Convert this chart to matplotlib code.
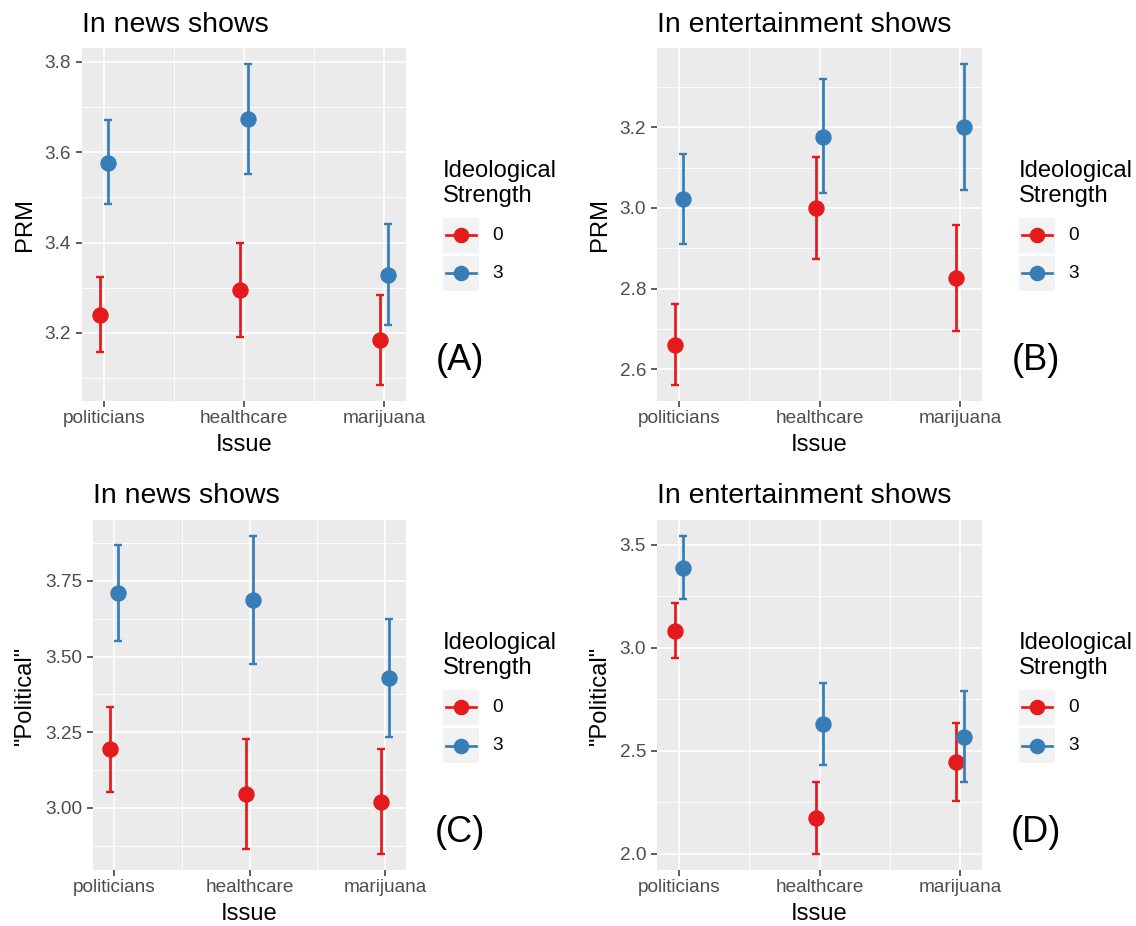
import matplotlib.pyplot as plt
from matplotlib.patches import Rectangle
from matplotlib.lines import Line2D
import numpy as np

plt.rcParams['font.family'] = ['Liberation Sans', 'DejaVu Sans']

W, H = 1136, 926

issues = ['politicians', 'healthcare', 'marijuana']
groups = ['0', '3']
group_colors = ['#E41A1C', '#377EB8']
legend_title = ['Ideological', 'Strength']

# (A) PRM in news shows
news_prm_mean_0 = [3.240, 3.294, 3.185]
news_prm_low_0 = [3.158, 3.191, 3.085]
news_prm_high_0 = [3.323, 3.398, 3.285]
news_prm_mean_3 = [3.577, 3.673, 3.329]
news_prm_low_3 = [3.485, 3.552, 3.217]
news_prm_high_3 = [3.672, 3.795, 3.441]

# (B) PRM in entertainment shows
ent_prm_mean_0 = [2.659, 3.000, 2.827]
ent_prm_low_0 = [2.561, 2.874, 2.694]
ent_prm_high_0 = [2.761, 3.127, 2.959]
ent_prm_mean_3 = [3.022, 3.177, 3.200]
ent_prm_low_3 = [2.910, 3.036, 3.045]
ent_prm_high_3 = [3.134, 3.320, 3.357]

# (C) "Political" in news shows
news_pol_mean_0 = [3.193, 3.045, 3.020]
news_pol_low_0 = [3.053, 2.864, 2.847]
news_pol_high_0 = [3.334, 3.226, 3.194]
news_pol_mean_3 = [3.709, 3.686, 3.429]
news_pol_low_3 = [3.552, 3.475, 3.235]
news_pol_high_3 = [3.870, 3.899, 3.625]

# (D) "Political" in entertainment shows
ent_pol_mean_0 = [3.082, 2.172, 2.445]
ent_pol_low_0 = [2.949, 1.998, 2.257]
ent_pol_high_0 = [3.217, 2.349, 2.635]
ent_pol_mean_3 = [3.387, 2.629, 2.568]
ent_pol_low_3 = [3.236, 2.429, 2.347]
ent_pol_high_3 = [3.543, 2.831, 2.788]

prm_ticks_news = [3.2, 3.4, 3.6, 3.8]
prm_ticks_ent = [2.6, 2.8, 3.0, 3.2]
pol_ticks_news = [3.00, 3.25, 3.50, 3.75]
pol_ticks_ent = [2.0, 2.5, 3.0, 3.5]

panels = [
    dict(title='In news shows', ylabel='PRM', tag='(A)', fmt='{:.1f}',
         ticks=prm_ticks_news, box=(82, 48, 406, 401),
         data=[(news_prm_mean_0, news_prm_low_0, news_prm_high_0),
               (news_prm_mean_3, news_prm_low_3, news_prm_high_3)]),
    dict(title='In entertainment shows', ylabel='PRM', tag='(B)', fmt='{:.1f}',
         ticks=prm_ticks_ent, box=(657, 48, 982, 401),
         data=[(ent_prm_mean_0, ent_prm_low_0, ent_prm_high_0),
               (ent_prm_mean_3, ent_prm_low_3, ent_prm_high_3)]),
    dict(title='In news shows', ylabel='"Political"', tag='(C)', fmt='{:.2f}',
         ticks=pol_ticks_news, box=(93, 520, 406, 870),
         data=[(news_pol_mean_0, news_pol_low_0, news_pol_high_0),
               (news_pol_mean_3, news_pol_low_3, news_pol_high_3)]),
    dict(title='In entertainment shows', ylabel='"Political"', tag='(D)', fmt='{:.1f}',
         ticks=pol_ticks_ent, box=(657, 520, 982, 870),
         data=[(ent_pol_mean_0, ent_pol_low_0, ent_pol_high_0),
               (ent_pol_mean_3, ent_pol_low_3, ent_pol_high_3)]),
]

fig = plt.figure(figsize=(W / 100, H / 100), dpi=100)
fig.patch.set_facecolor('white')


def fx(px):
    return px / W


def fy(py):
    return 1 - py / H


def draw_panel(p, col):
    l, t, r, b = p['box']
    ax = fig.add_axes([fx(l), fy(b), (r - l) / W, (b - t) / H])
    ax.set_facecolor('#EBEBEB')
    for s in ax.spines.values():
        s.set_visible(False)

    x = np.arange(1, len(issues) + 1)
    dodge = [-0.027, 0.027]
    lo_all, hi_all = [], []
    for k, (mean, low, high) in enumerate(p['data']):
        mean = np.array(mean)
        low = np.array(low)
        high = np.array(high)
        lo_all.append(low.min())
        hi_all.append(high.max())
        ax.errorbar(x + dodge[k], mean, yerr=[mean - low, high - mean],
                    fmt='o', color=group_colors[k], ms=10.8, elinewidth=1.95,
                    capsize=2.6, capthick=1.7, zorder=3 + k)

    ticks = p['ticks']
    step = ticks[1] - ticks[0]
    minor = [ticks[0] - step / 2] + [v + step / 2 for v in ticks]
    ax.set_yticks(ticks)
    ax.set_yticklabels([p['fmt'].format(v) for v in ticks])
    ax.set_yticks(minor, minor=True)
    ax.set_xticks(x)
    ax.set_xticklabels(issues)
    ax.set_xticks([1.5, 2.5], minor=True)

    # ggplot style 5% expansion, set after the ticks so they don't widen it
    lo, hi = min(lo_all), max(hi_all)
    pad = (hi - lo) * 0.05
    ax.set_ylim(lo - pad, hi + pad)
    ax.set_xlim(1 - 0.155, len(issues) + 0.155)

    ax.grid(which='major', color='white', lw=1.2, zorder=0)
    ax.grid(which='minor', color='white', lw=0.6, zorder=0)
    ax.set_axisbelow(True)
    ax.tick_params(which='major', length=4.3, width=1.1, color='#333333',
                   labelsize=13.7, labelcolor='#4D4D4D')
    ax.tick_params(axis='y', pad=3.5)
    ax.tick_params(axis='x', pad=2.5)
    ax.tick_params(which='minor', length=0)

    # titles and axis labels
    fig.text(fx(l), fy(t - 16.5), p['title'], fontsize=20.5, va='baseline', ha='left')
    fig.text(fx((l + r) / 2), fy(b + 44), 'Issue', fontsize=17.1, ha='center', va='center')
    ylab_x = 25 if col == 0 else 600
    fig.text(fx(ylab_x), fy((t + b) / 2), p['ylabel'], fontsize=17.1,
             rotation=90, ha='center', va='center')

    # panel tag
    fig.text(fx(r + 54), fy(t + 313), p['tag'], fontsize=26, ha='center', va='center')

    # legend
    lx = r + 37
    ty = t + 128.7
    fig.text(fx(lx), fy(ty), legend_title[0], fontsize=17.1, va='baseline')
    fig.text(fx(lx), fy(ty + 25), legend_title[1], fontsize=17.1, va='baseline')
    key_tops = [t + 169.7, t + 208]
    for k, g in enumerate(groups):
        kt = key_tops[k]
        fig.patches.append(Rectangle((fx(lx), fy(kt + 35)), 36 / W, 35 / H,
                                     transform=fig.transFigure, facecolor='#F2F2F2',
                                     edgecolor='none'))
        cy = fy(kt + 17.5)
        fig.lines.append(Line2D([fx(lx + 3), fx(lx + 33)], [cy, cy],
                                transform=fig.transFigure, color=group_colors[k], lw=1.95))
        fig.lines.append(Line2D([fx(lx + 18)], [cy], transform=fig.transFigure,
                                marker='o', ms=10.2, color=group_colors[k], lw=0))
        fig.text(fx(lx + 49), cy, g, fontsize=13.7, va='center', ha='left',
                 transform=fig.transFigure)


for i, p in enumerate(panels):
    draw_panel(p, i % 2)

fig.savefig('out.png', dpi=100, facecolor='white')
